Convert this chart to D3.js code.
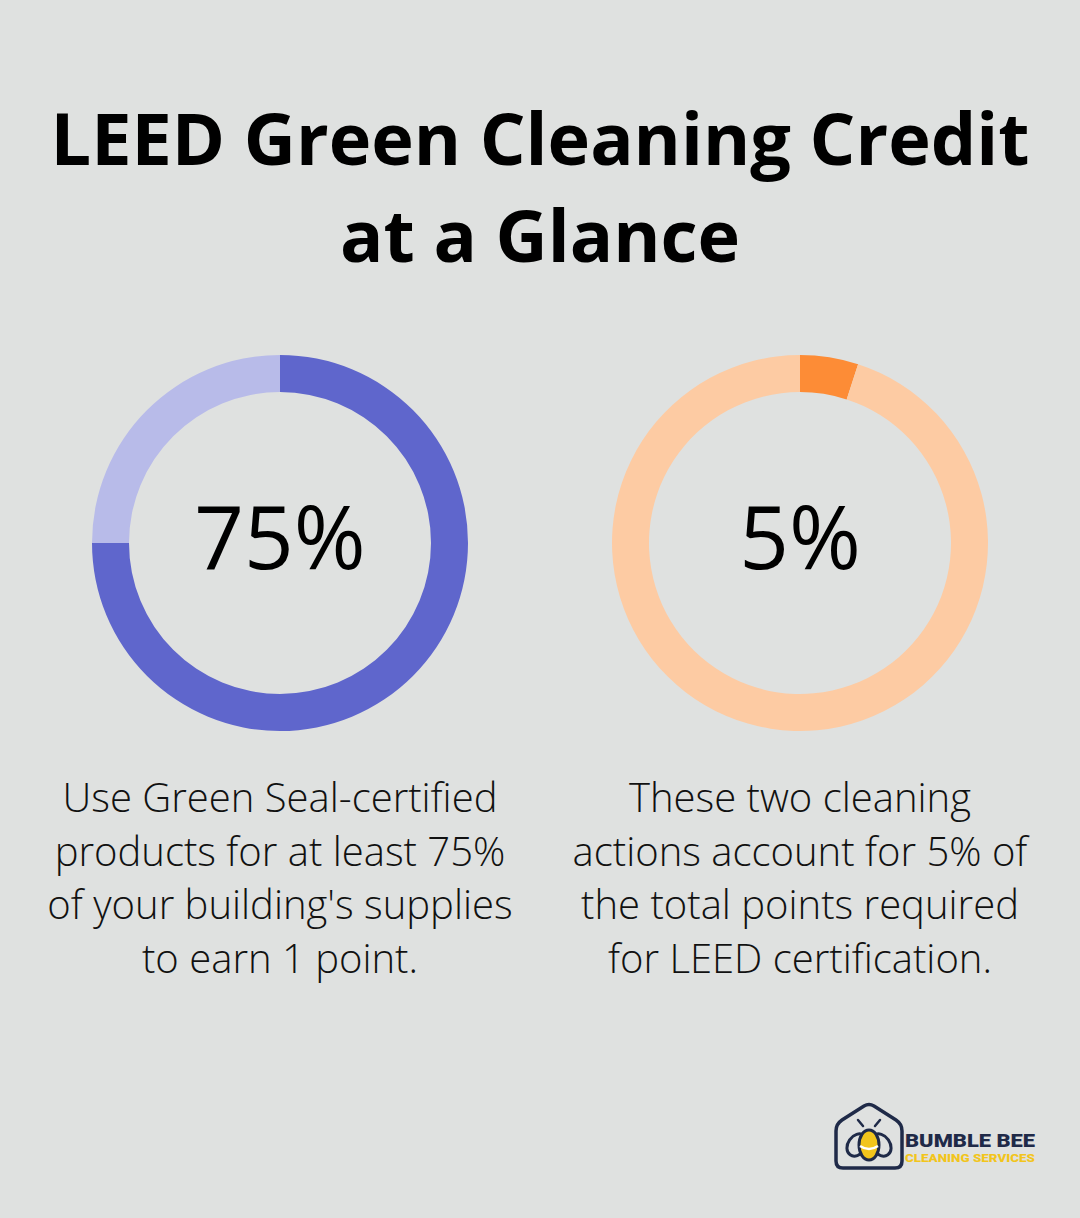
<!DOCTYPE html>
<html><head><meta charset="utf-8">
<script src="https://cdn.jsdelivr.net/npm/d3@7"></script>
<style>
html,body{margin:0;padding:0;background:#dfe1e0;}
svg{display:block;}
</style></head>
<body>
<svg id="chart" width="1080" height="1218"></svg>
<script>
const titleLines = ["LEED Green Cleaning Credit", "at a Glance"];
const categories = ["Green Seal products", "LEED points share"];
const values = [75, 5];
const valueLabels = ["75%", "5%"];
const descriptions = [
  ["Use Green Seal-certified", "products for at least 75%", "of your building's supplies", "to earn 1 point."],
  ["These two cleaning", "actions account for 5% of", "the total points required", "for LEED certification."]
];
const mainColors = ["#5f66cc", "#fd8c36"];
const restColors = ["#b8bbe9", "#fdcba3"];

const svg = d3.select("#chart");
svg.append("rect").attr("width",1080).attr("height",1218).attr("fill","#dfe1e0");

// Title
svg.append("g").selectAll("text").data(titleLines).join("text")
  .attr("x",540).attr("y",(d,i)=>165+i*97)
  .attr("text-anchor","middle")
  .attr("font-family","'Open Sans', sans-serif").attr("font-weight",700)
  .attr("font-size",72).attr("fill","#000").text(d=>d);

const x = d3.scalePoint().domain(categories).range([280,800]);
const pie = d3.pie().sort(null).value(d=>d);
const arc = d3.arc().innerRadius(151).outerRadius(188);

categories.forEach((c,i)=>{
  const g = svg.append("g").attr("transform",`translate(${x(c)},543)`);
  g.selectAll("path").data(pie([values[i],100-values[i]])).join("path")
    .attr("d",arc).attr("fill",(d,j)=>j===0?mainColors[i]:restColors[i]);
  g.append("text").attr("y",26).attr("text-anchor","middle")
    .attr("font-family","'Open Sans', sans-serif").attr("font-size",87)
    .attr("fill","#000").text(valueLabels[i]);
  svg.append("g").selectAll("text").data(descriptions[i]).join("text")
    .attr("x",x(c)).attr("y",(d,k)=>812+k*53.5)
    .attr("text-anchor","middle")
    .attr("font-family","'Open Sans', sans-serif").attr("font-weight",300)
    .attr("font-size",40).attr("fill","#111").text(d=>d);
});

// Logo
const logo = svg.append("g");
const navy = "#1f2a48", yellow = "#f2c51c";
logo.append("path")
  .attr("d","M836,1161 L836,1131 Q836,1124 842,1120 L864,1106 Q869,1103 874,1106 L896,1120 Q902,1124 902,1131 L902,1161 Q902,1168 895,1168 L843,1168 Q836,1168 836,1161 Z")
  .attr("fill","none").attr("stroke",navy).attr("stroke-width",3.5);
// wings
logo.append("ellipse").attr("cx",857).attr("cy",1145).attr("rx",9).attr("ry",12).attr("transform","rotate(35 857 1145)")
  .attr("fill","#dfe1e0").attr("stroke",navy).attr("stroke-width",3);
logo.append("ellipse").attr("cx",881).attr("cy",1145).attr("rx",9).attr("ry",12).attr("transform","rotate(-35 881 1145)")
  .attr("fill","#dfe1e0").attr("stroke",navy).attr("stroke-width",3);
// body
logo.append("ellipse").attr("cx",869).attr("cy",1145).attr("rx",10).attr("ry",15)
  .attr("fill",yellow).attr("stroke",navy).attr("stroke-width",3);
logo.append("path").attr("d","M860,1146 Q869,1152 878,1146").attr("fill","none").attr("stroke","#fff").attr("stroke-width",2.5);
logo.append("path").attr("d","M863,1126 L858,1120 M875,1126 L880,1120").attr("stroke",navy).attr("stroke-width",2.5).attr("stroke-linecap","round");
logo.append("text").attr("x",905).attr("y",1147)
  .attr("font-family","Roboto, sans-serif").attr("font-weight",900)
  .attr("font-size",19).attr("fill",navy).attr("textLength",130).attr("lengthAdjust","spacingAndGlyphs").text("BUMBLE BEE");
logo.append("text").attr("x",905).attr("y",1162)
  .attr("font-family","Roboto, sans-serif").attr("font-weight",900)
  .attr("font-size",11).attr("fill",yellow).attr("textLength",130).attr("lengthAdjust","spacingAndGlyphs").text("CLEANING SERVICES");
</script>
</body></html>
